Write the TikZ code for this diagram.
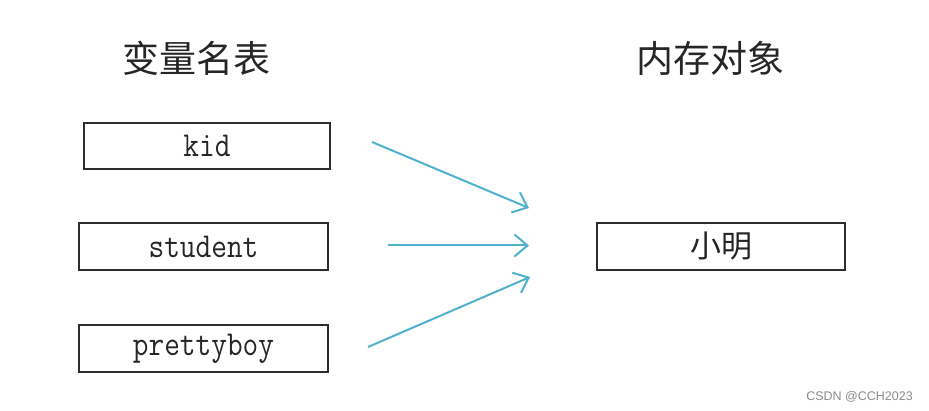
\documentclass[tikz,border=0pt]{standalone}
\usepackage{fontspec}
\usetikzlibrary{arrows.meta}
\newfontfamily\cjk{Noto Sans CJK SC}
\newfontfamily\boxmono[FakeStretch=0.87]{Latin Modern Mono}
\newfontfamily\wmfont{Liberation Sans}
\definecolor{arrowblue}{RGB}{80,177,204}
\definecolor{boxline}{RGB}{45,45,45}
\tikzset{
  varbox/.style={draw=boxline, line width=1.4pt, minimum height=47pt, inner sep=0pt, font=\boxmono\fontsize{35}{35}\selectfont, text=black!85},
  objbox/.style={varbox, font=\cjk\fontsize{31}{31}\selectfont},
  title/.style={font=\cjk\fontsize{37}{37}\selectfont, text=black!85, inner sep=0pt},
  link/.style={draw=arrowblue, line width=2pt, -{Straight Barb[length=13pt,width=22pt,line width=2pt]}}
}
\begin{document}
\begin{tikzpicture}[x=1pt,y=-1pt]
\useasboundingbox[fill=white] (0,0) rectangle (929,411);
\node[title] (t1) at (196,58) {变量名表};
\node[title] (t2) at (710,58) {内存对象};
\node[varbox, minimum width=246pt, minimum height=46pt] (kid) at (207,146) {kid};
\node[varbox, minimum width=249pt] (student) at (203.5,246.5) {student};
\node[varbox, minimum width=249pt] (pretty) at (203.5,348.5) {prettyboy};
\node[objbox, minimum width=248pt] (obj) at (721,246.5) {小明};
\coordinate (s1) at (372,142);
\coordinate (e1) at (529,208);
\coordinate (s2) at (388,245.5);
\coordinate (e2) at (529,245.5);
\coordinate (s3) at (368,347);
\coordinate (e3) at (530,277);
\draw[link] (s1) -- (e1);
\draw[link] (s2) -- (e2);
\draw[link] (s3) -- (e3);
\node[font=\wmfont\fontsize{12.5}{12.5}\selectfont, text=black!45, anchor=east, inner sep=0pt] (wm) at (913,397) {CSDN @CCH2023};
\end{tikzpicture}
\end{document}
